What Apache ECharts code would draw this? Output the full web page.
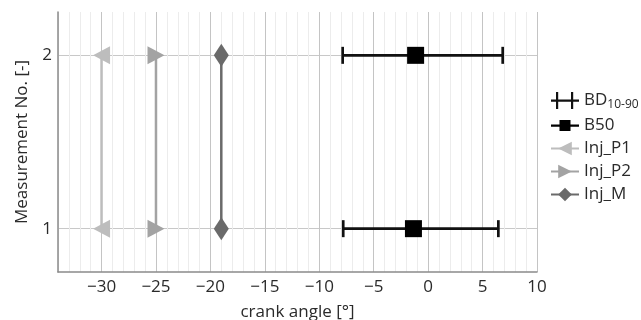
<!DOCTYPE html>
<html>
<head>
<meta charset="utf-8">
<script src="https://cdn.jsdelivr.net/npm/echarts@6/dist/echarts.min.js"></script>
<style>html,body{margin:0;padding:0;background:#fff}#c{width:641px;height:320px}</style>
</head>
<body>
<div id="c"></div>
<script>
const measurements = [1, 2];
const bdLow = [-7.8, -7.85];
const bdHigh = [6.45, 6.85];
const b50 = [-1.35, -1.15];
const injP1 = [-30, -30];
const injP2 = [-25, -25];
const injM = [-19, -19];
const xTicksMajor = [-30, -25, -20, -15, -10, -5, 0, 5, 10];

const FONT = 'Open Sans';
const TXT = '#2a2a2a';
const chart = echarts.init(document.getElementById('c'), null, {renderer: 'canvas'});

function pairs(xs) { return measurements.map((m, i) => [xs[i], m]); }

const option = {
  animation: false,
  backgroundColor: '#fff',
  textStyle: {fontFamily: FONT},
  grid: {left: 58, right: 104, top: 12, bottom: 48, containLabel: false, outerBoundsMode: 'none'},
  xAxis: {
    type: 'value', min: -34, max: 10, interval: 1,
    name: 'crank angle [°]', nameLocation: 'middle', nameGap: 32,
    nameTextStyle: {fontSize: 17, color: TXT, fontFamily: FONT},
    axisLine: {show: true, onZero: false, lineStyle: {color: '#8a8a8a', width: 1.5}},
    axisTick: {show: false},
    axisLabel: {
      margin: 7, fontSize: 17, color: TXT, fontFamily: FONT,
      formatter: v => (xTicksMajor.indexOf(v) >= 0 ? String(v).replace('-', '\u2212') : '')
    },
    splitLine: {show: true, lineStyle: {color: ['#ececec', '#ececec', '#ececec', '#ececec', '#c4c4c4'], width: 1}}
  },
  yAxis: {
    type: 'value', min: 0.75, max: 2.25, interval: 0.25,
    name: 'Measurement No. [-]', nameLocation: 'middle', nameGap: 27,
    nameTextStyle: {fontSize: 17, color: TXT, fontFamily: FONT},
    axisLine: {show: true, onZero: false, lineStyle: {color: '#8a8a8a', width: 1.5}},
    axisTick: {show: false},
    axisLabel: {
      margin: 6, fontSize: 17, color: TXT, fontFamily: FONT,
      formatter: v => (Math.abs(v - Math.round(v)) < 1e-9 && measurements.indexOf(Math.round(v)) >= 0 ? String(Math.round(v)) : '')
    },
    splitLine: {show: true, lineStyle: {color: ['rgba(0,0,0,0)', '#c8c8c8', 'rgba(0,0,0,0)', 'rgba(0,0,0,0)'], width: 1}}
  },
  legend: {
    orient: 'vertical', left: 545, top: 87, itemGap: 6, itemWidth: 28, itemHeight: 17,
    textStyle: {
      fontSize: 17, color: TXT, fontFamily: FONT,
      rich: {
        b: {fontSize: 17, color: TXT, fontFamily: FONT},
        s: {fontSize: 12, color: TXT, fontFamily: FONT, padding: [9, 0, 0, 0]}
      }
    },
    formatter: n => (n === 'BD' ? '{b|BD}{s|10-90}' : n),
    data: [
      {name: 'BD', icon: 'path://M0,7.5h28v2.2h-28z M5,0h2.2v17h-2.2z M20,0h2.2v17h-2.2z'},
      {name: 'B50', icon: 'path://M0,7.5h28v2.2h-28z M8.5,3h11v11h-11z'},
      {name: 'Inj_P1'}, {name: 'Inj_P2'}, {name: 'Inj_M'}
    ]
  },
  series: [
    {
      name: 'BD', type: 'custom', z: 5,
      itemStyle: {color: '#111'},
      data: measurements.map((m, i) => [bdLow[i], bdHigh[i], m]),
      encode: {x: [0, 1], y: 2},
      renderItem: function (params, api) {
        const p1 = api.coord([api.value(0), api.value(2)]);
        const p2 = api.coord([api.value(1), api.value(2)]);
        const h = 8.5;
        const st = {stroke: '#111', lineWidth: 2.7};
        return {
          type: 'group',
          children: [
            {type: 'line', shape: {x1: p1[0], y1: p1[1], x2: p2[0], y2: p2[1]}, style: st},
            {type: 'line', shape: {x1: p1[0], y1: p1[1] - h, x2: p1[0], y2: p1[1] + h}, style: st},
            {type: 'line', shape: {x1: p2[0], y1: p2[1] - h, x2: p2[0], y2: p2[1] + h}, style: st}
          ]
        };
      }
    },
    {
      name: 'B50', type: 'line', z: 6,
      data: pairs(b50),
      lineStyle: {width: 0},
      symbol: 'rect', symbolSize: 17,
      itemStyle: {color: '#000'},
      showSymbol: true
    },
    {
      name: 'Inj_P1', type: 'line', z: 4,
      data: pairs(injP1),
      lineStyle: {color: '#bdbdbd', width: 2.5},
      itemStyle: {color: '#bdbdbd'},
      symbol: 'triangle', symbolRotate: 90, symbolSize: [18, 17]
    },
    {
      name: 'Inj_P2', type: 'line', z: 4,
      data: pairs(injP2),
      lineStyle: {color: '#a3a3a3', width: 2.5},
      itemStyle: {color: '#a3a3a3'},
      symbol: 'triangle', symbolRotate: -90, symbolSize: [18, 17]
    },
    {
      name: 'Inj_M', type: 'line', z: 4,
      data: pairs(injM),
      lineStyle: {color: '#6a6a6a', width: 2.5},
      itemStyle: {color: '#6a6a6a'},
      symbol: 'diamond', symbolSize: [15, 23]
    }
  ]
};
chart.setOption(option);
</script>
</body>
</html>
